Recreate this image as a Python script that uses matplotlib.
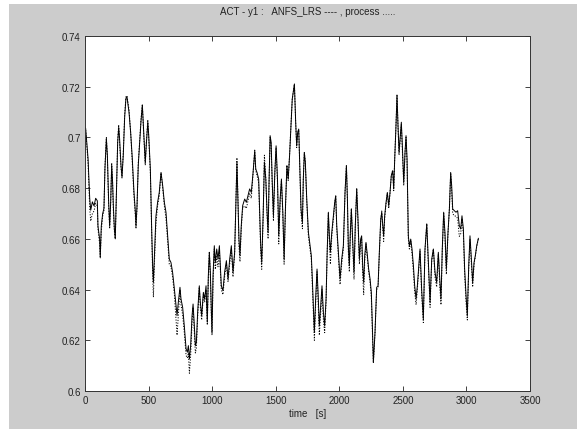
import numpy as np
import matplotlib
matplotlib.use("Agg")
from matplotlib import pyplot as plt
from matplotlib.patches import Rectangle

# time axis [s], shared by both traces
time_s = [0, 5, 24, 37, 45, 58, 71, 84, 97, 102, 115, 120, 128, 139, 149, 157, 168, 176, 186, 194,
          202, 210, 217, 223, 231, 238, 246, 257, 265, 272, 283, 291, 301, 312, 322, 330, 346, 359, 372, 385,
          396, 401, 409, 419, 430, 440, 451, 459, 467, 474, 482, 494, 501, 514, 525, 532, 538, 545, 558, 571,
          584, 598, 611, 624, 637, 650, 663, 676, 689, 703, 716, 724, 734, 747, 755, 768, 781, 795, 805, 813,
          821, 831, 842, 850, 857, 868, 876, 886, 899, 907, 918, 931, 941, 952, 962, 970, 978, 986, 994, 999,
          1007, 1017, 1025, 1036, 1046, 1057, 1072, 1085, 1098, 1112, 1125, 1138, 1151, 1164, 1177, 1190, 1195, 1203, 1211, 1219,
          1229, 1240, 1256, 1269, 1282, 1295, 1308, 1322, 1335, 1343, 1353, 1366, 1374, 1382, 1390, 1401, 1411, 1422, 1432, 1440,
          1448, 1456, 1464, 1472, 1482, 1493, 1503, 1514, 1524, 1535, 1545, 1556, 1566, 1577, 1588, 1598, 1609, 1619, 1630, 1647,
          1657, 1665, 1673, 1681, 1689, 1699, 1710, 1717, 1725, 1733, 1744, 1757, 1770, 1780, 1788, 1796, 1804, 1814, 1825, 1833,
          1843, 1854, 1864, 1875, 1885, 1896, 1904, 1914, 1922, 1930, 1941, 1954, 1964, 1972, 1980, 1993, 2006, 2019, 2032, 2045,
          2056, 2064, 2071, 2079, 2087, 2095, 2105, 2116, 2126, 2137, 2147, 2158, 2168, 2176, 2184, 2192, 2200, 2210, 2221, 2231,
          2242, 2252, 2260, 2268, 2281, 2294, 2305, 2315, 2326, 2334, 2342, 2349, 2357, 2368, 2378, 2389, 2399, 2409, 2420, 2428,
          2436, 2446, 2454, 2462, 2470, 2480, 2488, 2496, 2507, 2517, 2525, 2533, 2538, 2543, 2551, 2562, 2572, 2583, 2593, 2604,
          2614, 2625, 2635, 2648, 2661, 2674, 2688, 2700, 2714, 2727, 2740, 2753, 2766, 2779, 2792, 2800, 2810, 2821, 2831, 2842,
          2855, 2866, 2876, 2884, 2892, 2905, 2918, 2931, 2944, 2955, 2965, 2976, 2986, 2997, 3007, 3018, 3028, 3039, 3049, 3060,
          3070, 3081, 3094]

# ANFS_LRS model output (the continuous-looking trace)
anfs_lrs = [.703, .7036, .6917, .676, .6713, .6746, .673, .676, .675, .665, .660, .6525, .665, .670, .672, .6878, .6996, .693, .6746, .665,
            .6746, .689, .6825, .673, .664, .660, .676, .698, .704, .6996, .689, .6845, .693, .708, .7154, .716, .710, .702, .6917, .6786,
            .6707, .665, .673, .689, .698, .706, .7128, .7049, .697, .690, .697, .706, .701, .6876, .6626, .6494, .6428, .652, .669, .6744,
            .6783, .6862, .681, .6744, .6705, .6612, .652, .6507, .6468, .6402, .6336, .6297, .635, .6409, .6363, .633, .6257, .6166, .6153, .6179,
            .6126, .6179, .6297, .6343, .6284, .6179, .6192, .631, .6415, .635, .6297, .6389, .6363, .6415, .6271, .6455, .6547, .6468, .631, .6231,
            .6455, .6573, .6507, .656, .652, .6573, .6415, .6396, .6468, .6514, .6442, .652, .6573, .6468, .6547, .6797, .6902, .6757, .6599, .6534,
            .6652, .6731, .6757, .6744, .677, .6797, .6783, .6862, .6947, .6875, .6862, .6836, .6705, .6573, .6507, .6691, .6902, .6836, .6705, .6626,
            .6836, .7007, .6981, .6836, .6691, .6862, .6967, .6836, .6612, .6757, .6836, .6705, .652, .6731, .6889, .6836, .6928, .7033, .7151, .7211,
            .706, .6967, .702, .7033, .6889, .6718, .6665, .6836, .6941, .6902, .6757, .6626, .6573, .6534, .6442, .6336, .6231, .6363, .6481, .6389,
            .6257, .6336, .6415, .631, .6257, .6363, .6534, .6705, .6612, .6547, .6626, .6691, .6744, .677, .6652, .6547, .6442, .652, .6573, .6783,
            .6889, .6757, .6573, .6494, .6626, .6718, .6599, .6468, .6652, .6797, .6678, .652, .6599, .6612, .6494, .6428, .6534, .6586, .6534, .6481,
            .6442, .6389, .626, .6113, .6231, .6409, .6415, .6547, .6678, .6705, .6652, .6612, .6691, .6744, .6783, .6731, .6783, .6849, .6869, .6797,
            .6915, .7046, .7165, .7046, .6941, .7007, .706, .6967, .6823, .6941, .7007, .6915, .6757, .6612, .6573, .6599, .656, .6494, .6415, .6363,
            .6415, .6494, .656, .640, .6284, .656, .6659, .652, .635, .652, .656, .6468, .6428, .6547, .6428, .6363, .656, .6705, .6626, .6481,
            .6626, .6718, .6862, .681, .6718, .6711, .6705, .6711, .6652, .6639, .6691, .6639, .6481, .6376, .6297, .6494, .6612, .652, .6428, .6507,
            .6534, .6573, .6602]

# measured process output (dotted trace)
process = [.704, .703, .690, .672, .667, .670, .671, .674, .673, .664, .658, .653, .663, .669, .671, .6885, .700, .692, .673, .664,
           .674, .690, .682, .671, .663, .660, .675, .699, .705, .698, .688, .684, .694, .709, .716, .7165, .711, .702, .690, .677,
           .669, .664, .672, .690, .699, .707, .713, .704, .696, .689, .698, .707, .700, .686, .661, .646, .637, .649, .666, .673,
           .677, .686, .680, .673, .668, .659, .650, .649, .645, .638, .628, .622, .630, .640, .634, .630, .623, .614, .613, .615,
           .607, .614, .627, .633, .626, .615, .617, .629, .641, .633, .628, .638, .635, .640, .626, .644, .655, .645, .629, .622,
           .643, .656, .648, .653, .649, .655, .640, .638, .645, .650, .643, .650, .656, .645, .654, .681, .692, .676, .657, .651,
           .664, .672, .673, .672, .675, .678, .676, .686, .695, .687, .685, .682, .669, .655, .648, .668, .693, .684, .669, .660,
           .683, .700, .697, .682, .667, .686, .696, .682, .658, .675, .683, .669, .650, .672, .689, .683, .693, .704, .715, .721,
           .706, .696, .702, .703, .688, .670, .664, .683, .694, .690, .675, .661, .656, .652, .642, .631, .620, .634, .647, .636,
           .622, .631, .640, .628, .623, .635, .653, .670, .659, .650, .661, .668, .674, .677, .664, .653, .642, .650, .656, .678,
           .689, .675, .655, .647, .662, .672, .658, .644, .665, .680, .667, .650, .659, .660, .646, .638, .651, .658, .652, .647,
           .643, .637, .624, .611, .623, .640, .641, .654, .667, .671, .664, .659, .668, .674, .678, .672, .678, .685, .687, .679,
           .692, .705, .717, .704, .693, .700, .705, .695, .681, .694, .700, .690, .674, .660, .656, .659, .654, .647, .639, .634,
           .640, .648, .655, .638, .627, .655, .666, .650, .633, .651, .656, .645, .641, .654, .640, .634, .655, .670, .661, .646,
           .662, .672, .686, .679, .670, .669, .669, .668, .661, .662, .668, .662, .646, .635, .628, .648, .660, .650, .641, .650,
           .653, .657, .660]

x_ticks = [0, 500, 1000, 1500, 2000, 2500, 3000, 3500]
y_ticks = [0.6, 0.62, 0.64, 0.66, 0.68, 0.7, 0.72, 0.74]
y_tick_labels = ["0.6", "0.62", "0.64", "0.66", "0.68", "0.7", "0.72", "0.74"]

W, H = 577, 439
plt.rcParams['font.family'] = ['Liberation Sans', 'DejaVu Sans']

fig = plt.figure(figsize=(W / 100, H / 100), dpi=100, facecolor="white")
# grey MATLAB figure window, with a thin white strip on the left and bottom
fig.patches.append(Rectangle((9 / W, 9 / H), 1 - 9 / W, 1 - 14 / H,
                             transform=fig.transFigure, facecolor="#cccccc",
                             edgecolor="none", zorder=-10))

ax = fig.add_axes([85 / W, 47 / H, 445 / W, 355 / H])
ax.set_facecolor("white")

ax.plot(time_s, anfs_lrs, color="black", lw=0.7, ls="-")
ax.plot(time_s, process, color="black", lw=0.7, ls=(0, (1.2, 1.6)))

ax.set_xlim(0, 3500)
ax.set_ylim(0.6, 0.74)
ax.set_xticks(x_ticks)
ax.set_yticks(y_ticks)
ax.set_yticklabels(y_tick_labels)
ax.tick_params(direction="in", length=3.5, width=0.6, labelsize=7, pad=3,
               top=True, right=True, colors="#222222")
for sp in ax.spines.values():
    sp.set_linewidth(0.7)
    sp.set_color("#333333")

ax.set_title("ACT - y1 :   ANFS_LRS ---- , process .....", fontsize=7, pad=16, color="#222222")
ax.set_xlabel("time   [s]", fontsize=7, labelpad=2, color="#222222")

fig.savefig("out.png", dpi=100, facecolor=fig.get_facecolor())
